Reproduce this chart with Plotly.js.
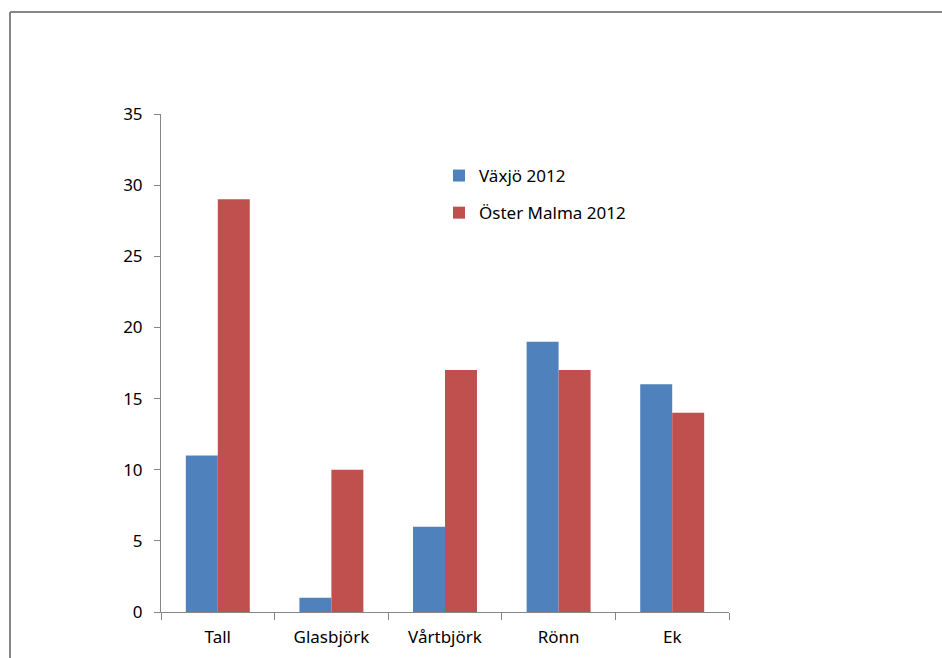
<!DOCTYPE html>
<html><head><meta charset="utf-8">
<script src="https://cdn.plot.ly/plotly-3.0.1.min.js"></script>
<style>html,body{margin:0;padding:0;background:#fff}</style>
</head><body><div id="chart" style="width:942px;height:658px"></div>
<script>
const categories = ["Tall", "Glasbjörk", "Vårtbjörk", "Rönn", "Ek"];
const vaxjo2012 = [11, 1, 6, 19, 16];
const osterMalma2012 = [29, 10, 17, 17, 14];
const seriesNames = ["Växjö 2012", "Öster Malma 2012"];
const yTicks = [0, 5, 10, 15, 20, 25, 30, 35];

const font = {family: "Noto Sans, Open Sans, sans-serif", size: 17, color: "#000"};
const axisGray = "#868686";

const L = 161, R = 729, T = 114, B = 612, W = 942, H = 658;
const px = x => (x - L) / (R - L);
const py = y => (B - y) / (B - T);

const traces = [
  {type: "bar", name: seriesNames[0], x: categories, y: vaxjo2012,
   marker: {color: "#4F81BD", line: {width: 0}}, legendgroup: "a"},
  {type: "bar", name: seriesNames[1], x: categories, y: osterMalma2012,
   marker: {color: "#C0504D", line: {width: 0}}, legendgroup: "b"}
];

const layout = {
  width: W, height: H,
  margin: {l: L, r: W - R, t: T, b: H - B, pad: 0},
  paper_bgcolor: "#fff", plot_bgcolor: "#fff",
  font: font,
  barmode: "group", bargap: 0.437, bargroupgap: 0,
  showlegend: true,
  legend: {x: px(439), y: py(158), xanchor: "left", yanchor: "top",
           font: {family: font.family, size: 17, color: "#000"},
           tracegroupgap: 12, bgcolor: "rgba(0,0,0,0)", borderwidth: 0},
  xaxis: {type: "category", showgrid: false, showline: true, linecolor: axisGray, linewidth: 1,
          ticks: "outside", tickson: "boundaries", ticklen: 7, tickcolor: axisGray,
          tickfont: font, zeroline: false, fixedrange: true, ticklabelstandoff: 10},
  yaxis: {range: [0, 35], tickvals: yTicks, ticktext: yTicks.map(String),
          showgrid: false, showline: true, linecolor: axisGray, linewidth: 1,
          ticks: "outside", ticklen: 6, tickcolor: axisGray, zeroline: false,
          tickfont: font, ticklabelstandoff: 8, fixedrange: true},
  shapes: [
    {type: "line", xref: "paper", yref: "paper", x0: px(10), x1: px(10), y0: py(12), y1: py(670),
     line: {color: axisGray, width: 2}},
    {type: "line", xref: "paper", yref: "paper", x0: px(10), x1: px(950), y0: py(12), y1: py(12),
     line: {color: axisGray, width: 2}}
  ]
};

Plotly.newPlot("chart", traces, layout, {staticPlot: true, displayModeBar: false});
</script></body></html>
